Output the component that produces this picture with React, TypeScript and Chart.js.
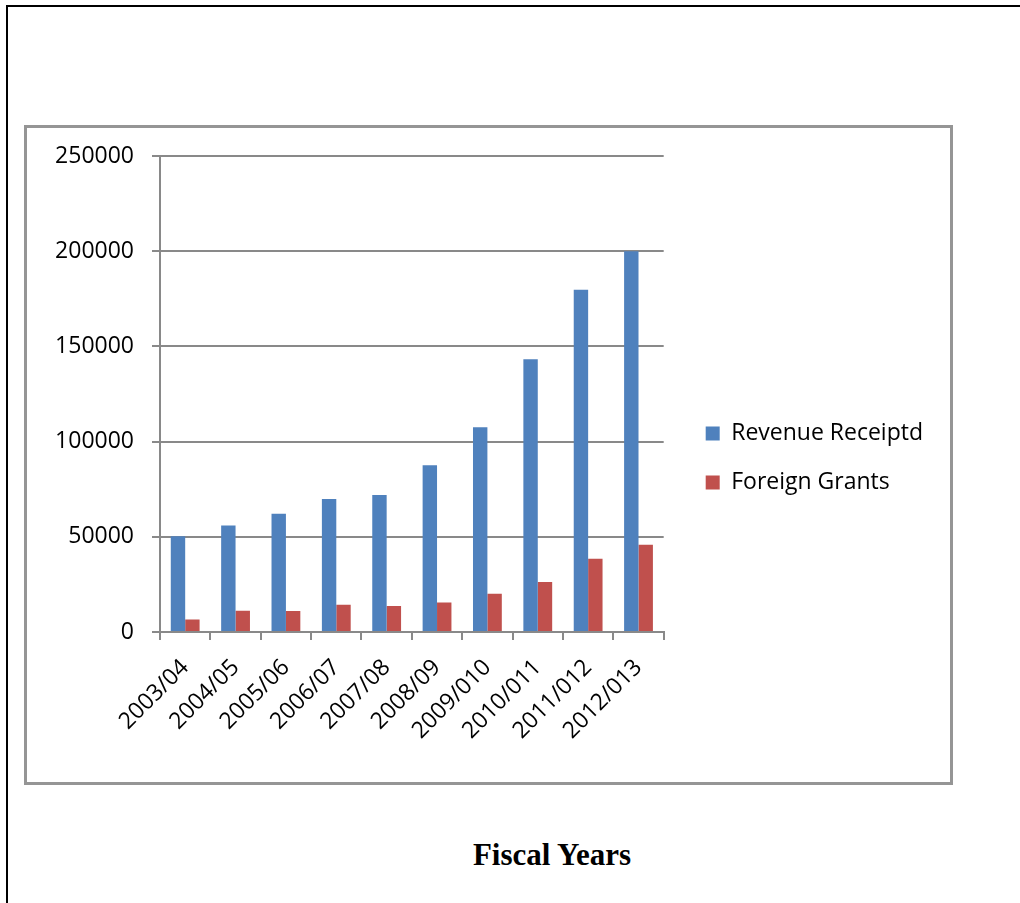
import React, { useEffect, useRef } from "react";
import { Chart, registerables } from "chart.js";

Chart.register(...registerables);

const categories = [
  "2003/04",
  "2004/05",
  "2005/06",
  "2006/07",
  "2007/08",
  "2008/09",
  "2009/010",
  "2010/011",
  "2011/012",
  "2012/013",
];
const revenueReceipts = [50300, 55900, 62100, 69900, 72000, 87600, 107500, 143200, 179800, 200000];
const foreignGrants = [6500, 11200, 11000, 14300, 13600, 15500, 20100, 26200, 38500, 45800];
const seriesNames = ["Revenue Receiptd", "Foreign Grants"];
const yMax = 250000;
const yStep = 50000;
const xAxisTitle = "Fiscal Years";

const FONT = "'Open Sans', 'DejaVu Sans', sans-serif";
const GRID = "#898989";

export default function App() {
  const canvasRef = useRef<HTMLCanvasElement | null>(null);

  useEffect(() => {
    const canvas = canvasRef.current;
    if (!canvas) return;
    const font = { family: FONT, size: 23 };
    const chart = new Chart(canvas, {
      type: "bar",
      data: {
        labels: categories,
        datasets: [
          {
            label: seriesNames[0],
            data: revenueReceipts,
            backgroundColor: "#4F81BD",
            categoryPercentage: 0.572,
            barPercentage: 1,
          },
          {
            label: seriesNames[1],
            data: foreignGrants,
            backgroundColor: "#C0504D",
            categoryPercentage: 0.572,
            barPercentage: 1,
          },
        ],
      },
      options: {
        animation: false,
        responsive: false,
        layout: { padding: { top: 28, right: 16, bottom: 22, left: 0 } },
        plugins: {
          tooltip: { enabled: false },
          legend: {
            position: "right",
            align: "center",
            maxWidth: 400,
            labels: {
              boxWidth: 14,
              boxHeight: 14,
              padding: 26,
              color: "#000",
              font,
            },
          },
        },
        scales: {
          x: {
            grid: {
              display: true,
              drawOnChartArea: false,
              drawTicks: true,
              tickLength: 8,
              color: GRID,
              lineWidth: 2,
              offset: true,
            },
            border: { display: true, color: GRID, width: 2 },
            ticks: {
              minRotation: 45,
              maxRotation: 45,
              autoSkip: false,
              color: "#000",
              padding: 14,
              font,
            },
            afterFit: (s: any) => {
              s.height = 128;
            },
          },
          y: {
            min: 0,
            max: yMax,
            ticks: {
              stepSize: yStep,
              color: "#000",
              padding: 18,
              font,
              callback: (v: any) => String(v),
            },
            grid: { color: GRID, lineWidth: 2, tickLength: 8 },
            border: { color: GRID, width: 2 },
            afterFit: (s: any) => {
              s.width = 133;
              s.paddingTop = 0;
              s.paddingBottom = 0;
            },
          },
          yRight: {
            type: "linear",
            axis: "y",
            position: "right",
            display: true,
            grid: { display: false },
            border: { display: false },
            ticks: { display: false },
            afterFit: (s: any) => {
              s.width = 16;
              s.paddingTop = 0;
              s.paddingBottom = 0;
            },
          },
        },
      },
    } as any);
    return () => chart.destroy();
  }, []);

  return (
    <div style={{ position: "absolute", left: 0, top: 0, width: 1020, height: 903, overflow: "hidden", background: "#fff" }}>
      <div
        style={{
          position: "absolute",
          left: 6,
          top: 5,
          width: 1100,
          height: 1000,
          borderLeft: "2px solid #000",
          borderTop: "2px solid #000",
        }}
      />
      <div
        style={{
          position: "absolute",
          left: 24,
          top: 125,
          width: 923,
          height: 654,
          border: "3px solid #959595",
        }}
      >
        <canvas ref={canvasRef} width={922} height={654} style={{ position: "absolute", left: 0, top: 0, width: 922, height: 654 }} />
      </div>
      <div
        style={{
          position: "absolute",
          left: 402,
          top: 839,
          width: 300,
          textAlign: "center",
          fontFamily: "'Liberation Serif', 'Times New Roman', serif",
          fontWeight: "bold",
          fontSize: 31,
          lineHeight: "31px",
          color: "#000",
        }}
      >
        {xAxisTitle}
      </div>
    </div>
  );
}
